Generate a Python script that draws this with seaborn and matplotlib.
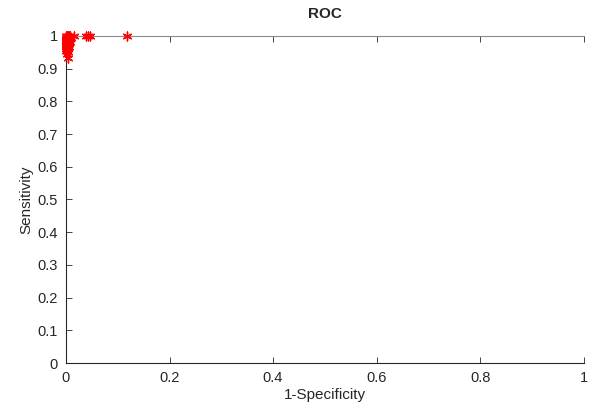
import matplotlib
matplotlib.use("Agg")
import matplotlib.pyplot as plt
import seaborn as sns
import pandas as pd

fpr = [0.0, 0.0, 0.0, 0.0, 0.0, 0.0, 0.0, 0.0, 0.002, 0.002, 0.002, 0.002, 0.004, 0.004,
       0.004, 0.004, 0.006, 0.006, 0.006, 0.008, 0.008, 0.002, 0.004, 0.006, 0.0, 0.002,
       0.004, 0.006, 0.008, 0.004, 0.006, 0.002, 0.004, 0.015, 0.038, 0.042, 0.047, 0.118,
       0.0, 0.002, 0.004, 0.0, 0.002, 0.008, 0.01]
tpr = [1.0, 0.995, 0.99, 0.985, 0.98, 0.975, 0.97, 0.96, 1.0, 0.995, 0.99, 0.985, 1.0, 0.995,
       0.99, 0.98, 1.0, 0.995, 0.99, 1.0, 0.995, 0.975, 0.97, 0.985, 0.955, 0.965,
       0.96, 0.975, 0.99, 0.95, 0.965, 0.945, 0.932, 1.0, 1.0, 1.0, 1.0, 1.0,
       0.99, 0.98, 0.975, 0.965, 0.955, 0.98, 0.995]

df = pd.DataFrame({"fpr": fpr, "tpr": tpr})

sns.set_style("white")
plt.rcParams["font.family"] = ["Liberation Sans", "DejaVu Sans"]

fig = plt.figure(figsize=(5.89, 4.03), dpi=100)
ax = fig.add_axes([0.112, 0.099, 0.879, 0.812])
sns.scatterplot(data=df, x="fpr", y="tpr", ax=ax, marker=(6, 2, 0), color="red",
                s=40, linewidth=1.0, edgecolor="red", clip_on=False, zorder=3)
ax.set_xlim(0, 1)
ax.set_ylim(0, 1)
ax.set_xticks([0, 0.2, 0.4, 0.6, 0.8, 1])
ax.set_xticklabels(["0", "0.2", "0.4", "0.6", "0.8", "1"])
ax.set_yticks([i / 10 for i in range(11)])
ax.set_yticklabels(["0"] + [f"0.{i}" for i in range(1, 10)] + ["1"])
ax.tick_params(axis="both", direction="in", length=4, width=0.6, colors="#262626",
               labelsize=10.5, labelcolor="#262626", top=True, bottom=True, left=True, right=False)
ax.tick_params(axis="x", pad=6)
ax.tick_params(axis="y", pad=6)
for side in ["left", "bottom", "top"]:
    ax.spines[side].set_visible(True)
    ax.spines[side].set_linewidth(0.8)
ax.spines["left"].set_color("#262626")
ax.spines["bottom"].set_color("#262626")
ax.spines["top"].set_color("#8c8c8c")
ax.spines["right"].set_visible(False)
ax.set_xlabel("1-Specificity", fontsize=11, color="#262626", labelpad=2)
ax.set_ylabel("Sensitivity", fontsize=11, color="#262626", labelpad=3)
ax.set_title("ROC", fontsize=11, fontweight="bold", pad=13)
fig.savefig("out.png", dpi=100)
